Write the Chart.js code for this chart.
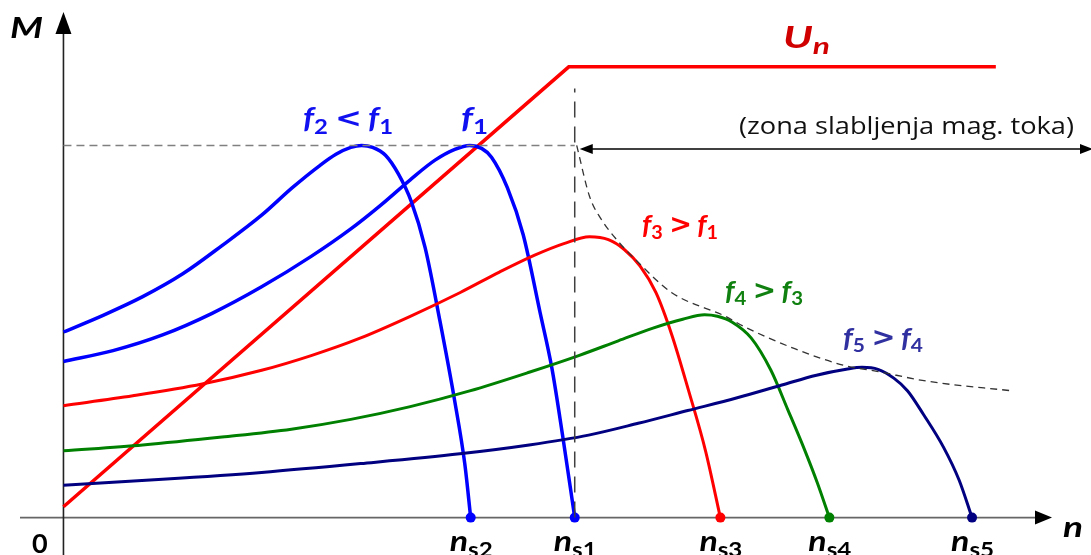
<!DOCTYPE html>
<html>
<head>
<meta charset="utf-8">
<script src="https://cdn.jsdelivr.net/npm/chart.js@4/dist/chart.umd.min.js"></script>
<style>
html,body{margin:0;padding:0;background:#fff;overflow:hidden;}
#wrap{width:1091px;height:555px;position:relative;}
</style>
</head>
<body>
<div id="wrap"><canvas id="c" width="1091" height="555"></canvas></div>
<script>
// ---- data (n = speed, M = torque) ----
const nF2 = [0, 40, 80, 120, 160, 200, 231, 258, 275, 290, 301, 312, 325, 338, 351, 365, 380, 395, 405, 411];
const mF2 = [189, 206, 225, 248, 277, 308, 336, 358, 370, 377, 379, 377, 369, 350, 322, 275, 200, 118, 55, 0];

const nF1 = [0, 50, 100, 150, 200, 250, 290, 320, 350, 375, 395, 410, 422, 432, 448, 464, 481, 493, 504, 516];
const mF1 = [159, 170, 186, 208, 235, 266, 294, 318, 344, 364, 375, 379, 376, 367, 336, 288, 209, 152, 82, 0];

const nF3 = [0, 70, 140, 200, 250, 300, 350, 400, 440, 475, 505, 531, 550, 566, 582, 598, 614, 631, 648, 663];
const mF3 = [114, 124, 136, 150, 165, 183, 205, 229, 250, 267, 279, 286, 283, 273, 256, 229, 186, 129, 68, 0];

const nF4 = [0, 80, 160, 230, 290, 350, 410, 470, 520, 560, 595, 625, 647, 660, 675, 694, 714, 731, 748, 761, 773];
const mF4 = [68, 74, 82, 90, 100, 113, 129, 148, 165, 180, 193, 202, 206.5, 205, 199, 183, 150, 110, 69, 35, 0];

const nF5 = [0, 100, 200, 300, 400, 470, 530, 580, 630, 680, 725, 760, 790, 806, 822, 838, 852, 868, 888, 904, 917];
const mF5 = [33, 39, 46, 55, 65, 74, 84, 96, 109, 122, 135, 145, 151, 153, 151, 142, 129, 105, 72, 38, 0];

const nUn = [0, 510, 941];
const mUn = [11, 459, 459];

const nLimit = [518, 531, 544, 561, 578, 614, 668, 688, 738, 788, 821, 871, 958];
const mLimit = [379, 327, 302, 280, 262, 229, 205, 194, 172, 155, 149, 139, 129];

const nRated = 516;      // n_s1
const mMax = 379;        // peak torque
const mVertTop = 437;    // top of vertical dashed guide

const syncLabels = ['s2', 's1', 's3', 's4', 's5'];
const syncSpeeds = [411, 516, 663, 773, 917];

// ---- helpers ----
const zip = (xs, ys) => xs.map((x, i) => ({x, y: ys[i]}));
const lastDot = (len) => (ctx) => ctx.dataIndex === len - 1 ? 5 : 0;

function curve(xs, ys, color, w) {
  return {
    data: zip(xs, ys), showLine: true, borderColor: color, backgroundColor: color,
    borderWidth: w, cubicInterpolationMode: 'monotone', pointRadius: lastDot(xs.length),
    pointHoverRadius: 0, pointBorderWidth: 0, clip: false
  };
}

const datasets = [
  {data: zip([0, nRated], [mMax, mMax]), showLine: true, borderColor: '#808080', borderWidth: 1.5,
   borderDash: [8, 5], pointRadius: 0, tension: 0, clip: false},
  {data: zip([nRated, nRated], [0, mVertTop]), showLine: true, borderColor: '#404040', borderWidth: 1.5,
   borderDash: [16, 9], pointRadius: 0, tension: 0, clip: false},
  {data: zip(nLimit, mLimit), showLine: true, borderColor: '#333', borderWidth: 1.3,
   borderDash: [7, 5], pointRadius: 0, cubicInterpolationMode: 'monotone', clip: false},
  curve(nF5, mF5, '#000080', 3),
  curve(nF4, mF4, '#008000', 3),
  curve(nF3, mF3, '#ff0000', 3),
  curve(nF1, mF1, '#0000ff', 3.5),
  curve(nF2, mF2, '#0000ff', 3.5),
  {data: zip(nUn, mUn), showLine: true, borderColor: '#ff0000', borderWidth: 3.5, pointRadius: 0,
   tension: 0, clip: false}
];

const FAM = 'Lato, "Open Sans", sans-serif';
// part kinds: 'm' main italic, 's' subscript upright, 'si' subscript italic, 'o' operator
function partFont(kind, size) {
  if (kind === 's') return `bold ${Math.round(size * 0.72)}px ${FAM}`;
  if (kind === 'si') return `italic bold ${Math.round(size * 0.72)}px ${FAM}`;
  if (kind === 'o') return `bold ${Math.round(size * 0.95)}px "DejaVu Sans", sans-serif`;
  return `italic bold ${size}px ${FAM}`;
}
function rich(ctx, x, y, parts, color, size, target) {
  const gap = (k) => (k === 'o' ? 5 : (k[0] === 's' ? 1 : 0));
  let w = 0;
  parts.forEach(([t, k], i) => {
    ctx.font = partFont(k, size);
    w += ctx.measureText(t).width + (i < parts.length - 1 ? gap(k) : 0);
    if (k === 'o') w += 5;
  });
  const kx = target ? target / w : 1;
  ctx.save();
  ctx.translate(x, y);
  ctx.scale(kx, 1);
  ctx.fillStyle = color;
  ctx.textBaseline = 'alphabetic';
  ctx.textAlign = 'left';
  let cx = 0;
  parts.forEach(([t, k]) => {
    ctx.font = partFont(k, size);
    if (k === 'o') cx += 5;
    const dy = k[0] === 's' ? size * 0.2 : (k === 'o' ? -1 : 0);
    ctx.fillText(t, cx, dy);
    cx += ctx.measureText(t).width + gap(k);
  });
  ctx.restore();
}

function arrowHead(ctx, x, y, dx, dy, len, half) {
  const px = -dy, py = dx;
  ctx.beginPath();
  ctx.moveTo(x, y);
  ctx.lineTo(x - dx * len + px * half, y - dy * len + py * half);
  ctx.lineTo(x - dx * len - px * half, y - dy * len - py * half);
  ctx.closePath();
  ctx.fill();
}

const axesPlugin = {
  id: 'axes',
  beforeDatasetsDraw(chart) {
    const {ctx, scales: {x, y}} = chart;
    const x0 = x.getPixelForValue(0), y0 = y.getPixelForValue(0);
    ctx.save();
    ctx.strokeStyle = '#666';
    ctx.fillStyle = '#000';
    ctx.lineWidth = 1.6;
    ctx.beginPath(); ctx.moveTo(20, y0); ctx.lineTo(1038, y0); ctx.stroke();
    arrowHead(ctx, 1052, y0, 1, 0, 17, 7);
    ctx.strokeStyle = '#222';
    ctx.beginPath(); ctx.moveTo(x0, 555); ctx.lineTo(x0, 30); ctx.stroke();
    arrowHead(ctx, x0, 12, 0, -1, 22, 8);
    ctx.restore();
  },
  afterDatasetsDraw(chart) {
    const {ctx, scales: {x, y}} = chart;
    ctx.save();
    const ay = y.getPixelForValue(mMax) + 3.5;
    const ax0 = x.getPixelForValue(nRated) + 5;
    ctx.strokeStyle = '#000'; ctx.fillStyle = '#000'; ctx.lineWidth = 1.5;
    ctx.beginPath(); ctx.moveTo(ax0 + 10, ay); ctx.lineTo(1082, ay); ctx.stroke();
    arrowHead(ctx, ax0, ay, -1, 0, 13, 5);
    arrowHead(ctx, 1093, ay, 1, 0, 13, 5);

    ctx.font = '23px "Open Sans", Lato, sans-serif';
    ctx.fillStyle = '#111';
    ctx.textAlign = 'left';
    const zt = '(zona slabljenja mag. toka)';
    const zw = ctx.measureText(zt).width;
    ctx.save(); ctx.translate(739, 134); ctx.scale(335 / zw, 1); ctx.fillText(zt, 0, 0); ctx.restore();

    rich(ctx, 10, 38, [['M', 'm']], '#000', 28, 33);
    ctx.font = 'bold 27px ' + FAM;
    ctx.fillStyle = '#000';
    ctx.fillText('0', 32, 553);
    rich(ctx, 1063, 537, [['n', 'm']], '#000', 28, 20);

    syncLabels.forEach((s, i) => {
      const px = x.getPixelForValue(syncSpeeds[i]);
      rich(ctx, px - 21, 551, [['n', 'm'], [s, 's']], '#000', 28, 43);
    });

    rich(ctx, 303, 128, [['f', 'm'], ['2', 's'], ['<', 'o'], ['f', 'm'], ['1', 's']], '#1010f0', 28, 90);
    rich(ctx, 461, 128, [['f', 'm'], ['1', 's']], '#1010f0', 28, 27);
    rich(ctx, 783, 48, [['U', 'm'], ['n', 'si']], '#d00000', 30, 47);
    rich(ctx, 642, 234, [['f', 'm'], ['3', 's'], ['>', 'o'], ['f', 'm'], ['1', 's']], '#ff0000', 27, 76);
    rich(ctx, 725, 300, [['f', 'm'], ['4', 's'], ['>', 'o'], ['f', 'm'], ['3', 's']], '#108010', 27, 78);
    rich(ctx, 843, 347, [['f', 'm'], ['5', 's'], ['>', 'o'], ['f', 'm'], ['4', 's']], '#3030a0', 27, 80);
    ctx.restore();
  }
};

new Chart(document.getElementById('c'), {
  type: 'scatter',
  data: {datasets},
  options: {
    responsive: false,
    devicePixelRatio: 1,
    animation: false,
    events: [],
    layout: {padding: 0},
    plugins: {legend: {display: false}, tooltip: {enabled: false}, title: {display: false}},
    scales: {
      x: {type: 'linear', min: -59, max: 1032, display: false},
      y: {type: 'linear', min: -33, max: 522, display: false}
    }
  },
  plugins: [axesPlugin]
});
</script>
</body>
</html>
